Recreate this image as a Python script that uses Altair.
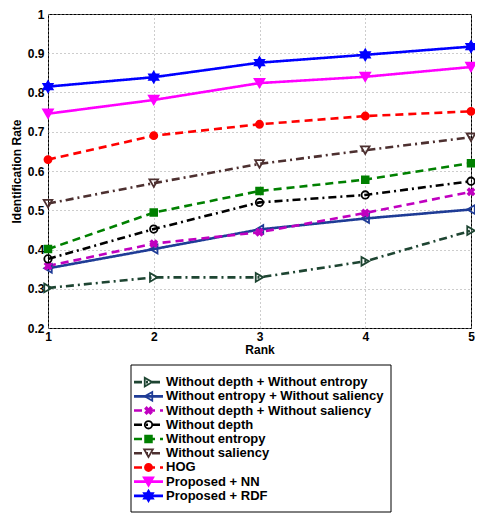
import altair as alt
import pandas as pd
import numpy as np

ranks = [1, 2, 3, 4, 5]
series = [
    "Without depth + Without entropy",
    "Without entropy + Without saliency",
    "Without depth + Without saliency",
    "Without depth",
    "Without entropy",
    "Without saliency",
    "HOG",
    "Proposed + NN",
    "Proposed + RDF",
]
v_d_e = [0.302, 0.329, 0.329, 0.370, 0.448]
v_e_s = [0.352, 0.401, 0.451, 0.479, 0.502]
v_d_s = [0.358, 0.415, 0.444, 0.493, 0.547]
v_d = [0.376, 0.452, 0.520, 0.539, 0.574]
v_e = [0.401, 0.494, 0.549, 0.578, 0.620]
v_s = [0.517, 0.569, 0.618, 0.653, 0.686]
v_hog = [0.629, 0.690, 0.719, 0.740, 0.752]
v_nn = [0.746, 0.781, 0.824, 0.840, 0.865]
v_rdf = [0.815, 0.839, 0.876, 0.896, 0.917]
values = [v_d_e, v_e_s, v_d_s, v_d, v_e, v_s, v_hog, v_nn, v_rdf]
y_ticks = [0.2, 0.3, 0.4, 0.5, 0.6, 0.7, 0.8, 0.9, 1.0]

colors = ["#1e4532", "#1f3c96", "#c000c0", "#000000", "#008000",
          "#4d3030", "#ff0000", "#ff00ff", "#0000ff"]
styles = ["dashdot", "solid", "dashed", "dashdot", "dashed",
          "dashdot", "dashed", "solid", "solid"]

ang = np.deg2rad(-90 + 30 * np.arange(12))
rad = np.where(np.arange(12) % 2 == 0, 1.0, 0.58)
hexagram = "M" + "L".join(f"{r*np.cos(a):.3f},{r*np.sin(a):.3f}" for r, a in zip(rad, ang)) + "Z"
xmark = "M-1,-0.6L-0.6,-1L0,-0.4L0.6,-1L1,-0.6L0.4,0L1,0.6L0.6,1L0,0.4L-0.6,1L-1,0.6L-0.4,0Z"

shapes = ["triangle-right", "triangle-left", xmark, "circle", "square",
          "triangle-down", "circle", "triangle-down", hexagram]
filled = [False, False, True, False, True, False, True, True, True]
sizes = [75, 75, 40, 55, 45, 75, 50, 95, 115]

rows = []
for i, name in enumerate(series):
    for r, v in zip(ranks, values[i]):
        rows.append({"series": name, "rank": r, "value": v,
                     "col": colors[i], "fillc": colors[i] if filled[i] else "transparent",
                     "shape": shapes[i], "style": styles[i], "size": sizes[i]})
df = pd.DataFrame(rows)
leg = pd.DataFrame({"series": series,
                    "col": colors, "fillc": [c if f else "transparent" for c, f in zip(colors, filled)],
                    "shape": shapes, "style": styles, "size": sizes})

dash_scale = alt.Scale(domain=["solid", "dashed", "dashdot"],
                       range=[[1, 0], [8, 5], [8, 4, 2, 4]])

x_enc = alt.X("rank:Q", scale=alt.Scale(domain=[1, 5], nice=False),
              axis=alt.Axis(values=ranks, format="d", title="Rank", labelFlush=False,
                            labelOverlap=False, grid=True))
y_enc = alt.Y("value:Q", scale=alt.Scale(domain=[0.2, 1.0], nice=False),
              axis=alt.Axis(values=y_ticks, labelFlush=False, labelOverlap=False, grid=True,
                            labelExpr="datum.value == 1 ? '1' : format(datum.value, '.1f')",
                            title="Identification Rate"))

base = alt.Chart(df)
lines = base.mark_line(strokeWidth=2.6).encode(
    color=alt.Color("col:N", scale=None),
    strokeDash=alt.StrokeDash("style:N", scale=dash_scale, legend=None),
    detail="series:N",
    order="rank:Q",
)
points = base.mark_point(filled=True, strokeWidth=1.8, opacity=1).encode(
    shape=alt.Shape("shape:N", scale=None),
    fill=alt.Fill("fillc:N", scale=None),
    stroke=alt.Stroke("col:N", scale=None),
    size=alt.Size("size:Q", scale=None),
)
main = alt.layer(lines, points).encode(x=x_enc, y=y_enc)

# legend box drawn below the plot area
ybase = alt.Y("series:N", axis=None,
              scale=alt.Scale(type="point", domain=series, range=[361, 489]))
frame = alt.Chart(pd.DataFrame({"k": [0]})).mark_rect(
    filled=False, stroke="black", strokeWidth=1).encode(
    x=alt.value(83), x2=alt.value(343), y=alt.value(351), y2=alt.value(498))
lb = alt.Chart(leg)
leg_lines = lb.mark_rule(strokeWidth=2.6).encode(
    x=alt.value(86), x2=alt.value(115), y=ybase,
    color=alt.Color("col:N", scale=None),
    strokeDash=alt.StrokeDash("style:N", scale=dash_scale, legend=None),
)
leg_pts = lb.mark_point(filled=True, strokeWidth=1.8, opacity=1).encode(
    x=alt.value(100.5), y=ybase,
    shape=alt.Shape("shape:N", scale=None),
    fill=alt.Fill("fillc:N", scale=None),
    stroke=alt.Stroke("col:N", scale=None),
    size=alt.Size("size:Q", scale=None),
)
leg_txt = lb.mark_text(align="left", baseline="middle", fontSize=13,
                       fontWeight="bold", font="Liberation Sans", color="black").encode(
    x=alt.value(118), y=ybase, text="series:N",
)

chart = alt.layer(main, frame, leg_lines, leg_pts, leg_txt).resolve_scale(
    y="independent"
).properties(
    width=423, height=314,
    autosize=alt.AutoSizeParams(type="none"),
    padding={"left": 40, "top": 6, "right": 4, "bottom": 188},
).configure_view(stroke="black", strokeWidth=1).configure_axis(
    labelFont="Liberation Sans", titleFont="Liberation Sans",
    labelFontSize=12, titleFontSize=12, labelFontWeight="bold", titleFontWeight="bold",
    labelColor="black", titleColor="black",
    gridColor="#9a9a9a", gridDash=[1, 3], gridWidth=1,
    domain=False, ticks=False, labelPadding=4, titlePadding=4,
).configure_axisX(titlePadding=2, labelPadding=3)

chart.save("out.html", embed_options={"renderer": "svg", "actions": False})
